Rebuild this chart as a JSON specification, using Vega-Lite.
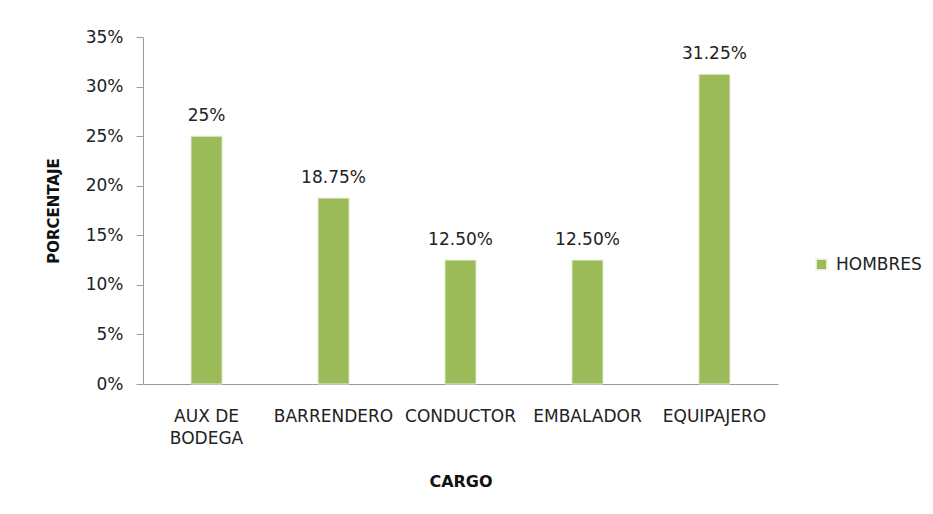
{
  "$schema": "https://vega.github.io/schema/vega-lite/v6.json",
  "width": 635,
  "height": 347,
  "autosize": "none",
  "padding": {"left": 143, "top": 37, "right": 155, "bottom": 130},
  "background": "white",
  "config": {
    "view": {"stroke": null},
    "font": "DejaVu Sans"
  },
  "data": {
    "values": [
      {"cargo": "AUX DE BODEGA", "pct": 0.25, "etiqueta": "25%", "serie": "HOMBRES"},
      {"cargo": "BARRENDERO", "pct": 0.1875, "etiqueta": "18.75%", "serie": "HOMBRES"},
      {"cargo": "CONDUCTOR", "pct": 0.125, "etiqueta": "12.50%", "serie": "HOMBRES"},
      {"cargo": "EMBALADOR", "pct": 0.125, "etiqueta": "12.50%", "serie": "HOMBRES"},
      {"cargo": "EQUIPAJERO", "pct": 0.3125, "etiqueta": "31.25%", "serie": "HOMBRES"}
    ]
  },
  "encoding": {
    "x": {
      "field": "cargo",
      "type": "nominal",
      "sort": null,
      "scale": {"paddingInner": 0.755, "paddingOuter": 0.378},
      "axis": {
        "title": "CARGO",
        "titleFontSize": 16,
        "titleFontWeight": "bold",
        "titleColor": "#111111",
        "titlePadding": 27,
        "labelAngle": 0,
        "labelFontSize": 17,
        "labelColor": "#222222",
        "labelPadding": 24,
        "labelLineHeight": 22,
        "labelExpr": "datum.label == 'AUX DE BODEGA' ? ['AUX DE', 'BODEGA'] : datum.label",
        "ticks": false,
        "domainColor": "#9a9a9a",
        "labelOverlap": false,
        "labelBound": false
      }
    },
    "y": {
      "field": "pct",
      "type": "quantitative",
      "scale": {"domain": [0, 0.35]},
      "axis": {
        "title": "PORCENTAJE",
        "titleFontSize": 15,
        "titleFontWeight": "bold",
        "titleColor": "#111111",
        "titlePadding": 24,
        "format": ".0%",
        "values": [0, 0.05, 0.1, 0.15, 0.2, 0.25, 0.3, 0.35],
        "labelFontSize": 17,
        "labelColor": "#222222",
        "labelPadding": 13,
        "tickSize": 7,
        "tickColor": "#9a9a9a",
        "domainColor": "#9a9a9a",
        "grid": false
      }
    }
  },
  "layer": [
    {
      "mark": {"type": "bar", "stroke": "#e6eed8", "strokeWidth": 1},
      "encoding": {
        "color": {
          "field": "serie",
          "type": "nominal",
          "scale": {"range": ["#9BBB59"]},
          "legend": {
            "title": null,
            "orient": "none",
            "legendX": 670,
            "legendY": 219,
            "symbolType": "square",
            "symbolSize": 110,
            "labelFontSize": 17,
            "labelColor": "#222222",
            "labelOffset": 6
          }
        }
      }
    },
    {
      "mark": {"type": "text", "dy": -11, "baseline": "bottom", "fontSize": 17, "color": "#222222"},
      "encoding": {
        "text": {"field": "etiqueta"}
      }
    }
  ]
}
